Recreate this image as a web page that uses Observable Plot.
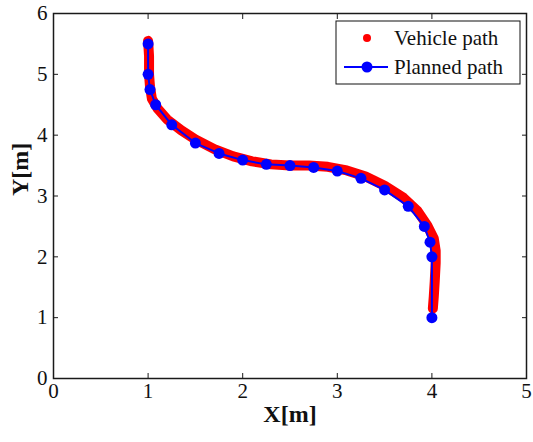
<!DOCTYPE html>
<html>
<head>
<meta charset="utf-8">
<script src="https://cdn.jsdelivr.net/npm/d3@7"></script>
<script src="https://cdn.jsdelivr.net/npm/@observablehq/plot@0.6"></script>
<style>
  body { margin: 0; background: white; }
  #chart { position: relative; width: 533px; height: 442px; }
</style>
</head>
<body>
<div id="chart"></div>
<script>
// Planned path (blue markers)
const plannedX = [1, 1, 1.02, 1.08, 1.25, 1.5, 1.75, 2, 2.25, 2.5, 2.75, 3, 3.25, 3.5, 3.75, 3.92, 3.98, 4, 4];
const plannedY = [5.5, 5, 4.75, 4.5, 4.17, 3.87, 3.7, 3.59, 3.52, 3.5, 3.47, 3.41, 3.29, 3.1, 2.83, 2.5, 2.24, 2, 1];

// Vehicle path (red trace)
const vehicleX = [1.0, 1.01, 1.01, 1.02, 1.04, 1.1, 1.2, 1.35, 1.5, 1.7, 1.9, 2.1, 2.3, 2.5, 2.7, 2.9, 3.1, 3.3, 3.5, 3.7, 3.85, 3.95, 4.02, 4.04, 4.04, 4.03, 4.02, 4.01];
const vehicleY = [5.55, 5.3, 5.0, 4.8, 4.6, 4.44, 4.26, 4.08, 3.93, 3.77, 3.65, 3.57, 3.52, 3.5, 3.5, 3.48, 3.42, 3.32, 3.17, 2.97, 2.75, 2.52, 2.3, 2.1, 1.9, 1.6, 1.35, 1.15];

const xTicks = [0, 1, 2, 3, 4, 5];
const yTicks = [0, 1, 2, 3, 4, 5, 6];
const xLabel = "X[m]";
const yLabel = "Y[m]";
const legendLabels = ["Vehicle path", "Planned path"];

const planned = plannedX.map((x, i) => ({x, y: plannedY[i]}));
const vehicle = vehicleX.map((x, i) => ({x, y: vehicleY[i]}));

const font = "Liberation Serif";
const axisColor = "#1a1a1a";
const blank = () => "";

const chart = Plot.plot({
  width: 533,
  height: 442,
  marginLeft: 53,
  marginRight: 7,
  marginTop: 13,
  marginBottom: 64,
  style: {background: "white", color: "#111"},
  x: {domain: [0, 5], axis: null},
  y: {domain: [0, 6], axis: null},
  marks: [
    Plot.line(vehicle, {x: "x", y: "y", stroke: "red", strokeWidth: 10, strokeLinecap: "round", strokeLinejoin: "round"}),
    Plot.line(planned, {x: "x", y: "y", stroke: "blue", strokeWidth: 2}),
    Plot.dot(planned, {x: "x", y: "y", r: 5.5, fill: "blue", stroke: "none"}),
    Plot.frame({stroke: axisColor, strokeWidth: 1.5}),
    Plot.axisX(xTicks, {anchor: "bottom", label: null, tickSize: -5, tickFormat: blank, stroke: axisColor}),
    Plot.axisX(xTicks, {anchor: "top", label: null, tickSize: -5, tickFormat: blank, stroke: axisColor}),
    Plot.axisY(yTicks, {anchor: "left", label: null, tickSize: -5, tickFormat: blank, stroke: axisColor}),
    Plot.axisY(yTicks, {anchor: "right", label: null, tickSize: -5, tickFormat: blank, stroke: axisColor}),
    // tick labels as text marks positioned through the scales
    Plot.text(xTicks, {x: d => d, text: d => String(d), frameAnchor: "bottom", dy: 19, fontSize: 21, fontFamily: font, fill: "#111"}),
    Plot.text(yTicks, {y: d => d, text: d => String(d), frameAnchor: "left", dx: -6, textAnchor: "end", fontSize: 21, fontFamily: font, fill: "#111"}),
    Plot.text([xLabel], {frameAnchor: "bottom", dy: 43, fontWeight: "bold", fontSize: 24, fontFamily: font, fill: "#111"}),
    Plot.text([yLabel], {frameAnchor: "left", dx: -33, rotate: -90, fontWeight: "bold", fontSize: 24, fontFamily: font, fill: "#111"})
  ]
});

document.getElementById("chart").appendChild(chart);
d3.select(chart).attr("font-family", font);

// Legend box (top-right, inside the axes)
const svg = d3.select(chart);
const g = svg.append("g").attr("font-family", font).attr("font-size", 21).attr("text-anchor", "start");
const lx = 336, ly = 21, lw = 184, lh = 63;
g.append("rect").attr("x", lx).attr("y", ly).attr("width", lw).attr("height", lh)
  .attr("fill", "white").attr("stroke", "#111").attr("stroke-width", 1);
g.append("circle").attr("cx", lx + 31).attr("cy", ly + 17).attr("r", 4).attr("fill", "red");
g.append("line").attr("x1", lx + 8).attr("x2", lx + 52).attr("y1", ly + 46).attr("y2", ly + 46)
  .attr("stroke", "blue").attr("stroke-width", 2);
g.append("circle").attr("cx", lx + 31).attr("cy", ly + 46).attr("r", 5.5).attr("fill", "blue");
g.append("text").attr("x", lx + 58).attr("y", ly + 17).attr("dy", "0.35em").attr("fill", "#111").text(legendLabels[0]);
g.append("text").attr("x", lx + 58).attr("y", ly + 46).attr("dy", "0.35em").attr("fill", "#111").text(legendLabels[1]);
</script>
</body>
</html>
